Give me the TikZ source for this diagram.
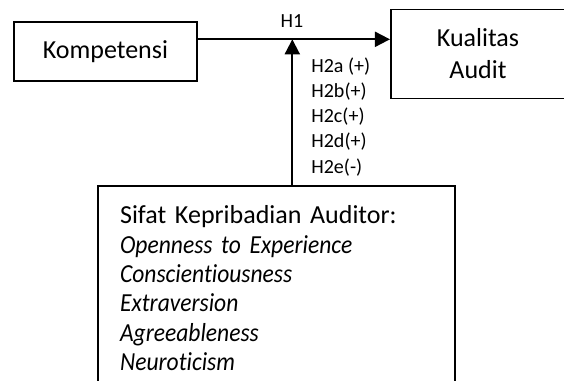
\documentclass[tikz,border=0pt]{standalone}
\usepackage{fontspec}
\setmainfont{Carlito}[Ligatures=NoCommon,ItalicFeatures={FakeStretch=0.905}]
\usetikzlibrary{arrows.meta}

\begin{document}
\begin{tikzpicture}[x=0.02cm,y=-0.02cm,
  box/.style={draw,line width=0.9pt,inner sep=0pt,font=\fontsize{14.8}{18.2}\selectfont},
  arr/.style={line width=1.1pt,-{Triangle[length=0.3cm,width=0.3cm]}},
  lbl/.style={inner sep=0pt,font=\fontsize{11.4}{14.4}\selectfont}]

\useasboundingbox (0,0) rectangle (564,380);
\clip (0,0) rectangle (564,380);

\node (komp) at (105.4,51.5) [box,minimum width=3.666cm,minimum height=1.18cm]{Kompetensi};
\node (kual) at (478,54) [box,minimum width=3.49cm,minimum height=1.788cm,align=center]{Kualitas\\Audit};

\node (sifat) at (97.3,185) [box,anchor=north west,inner xsep=0.44cm,inner ysep=0.4cm,
  text width=6.254cm,align=left,font=\fontsize{14.8}{16.7}\selectfont]
  {Sifat Kepribadian Auditor:\\
   \textit{Openness to Experience}\\
   \textit{Conscientiousness}\\
   \textit{Extraversion}\\
   \textit{Agreeableness}\\
   \textit{Neuroticism}};

\coordinate (hub) at (292.3,39.3);

\draw [arr] (komp.east |- hub) -- (kual.west |- hub);
\draw [arr] (sifat.north -| hub) -- (hub);

\node (h1) at (292,21) [lbl]{H1};
\node (h2) at (311,57) [lbl,anchor=north west,align=left]
  {H2a (+)\\H2b(+)\\H2c(+)\\H2d(+)\\H2e(-)};

\end{tikzpicture}
\end{document}
